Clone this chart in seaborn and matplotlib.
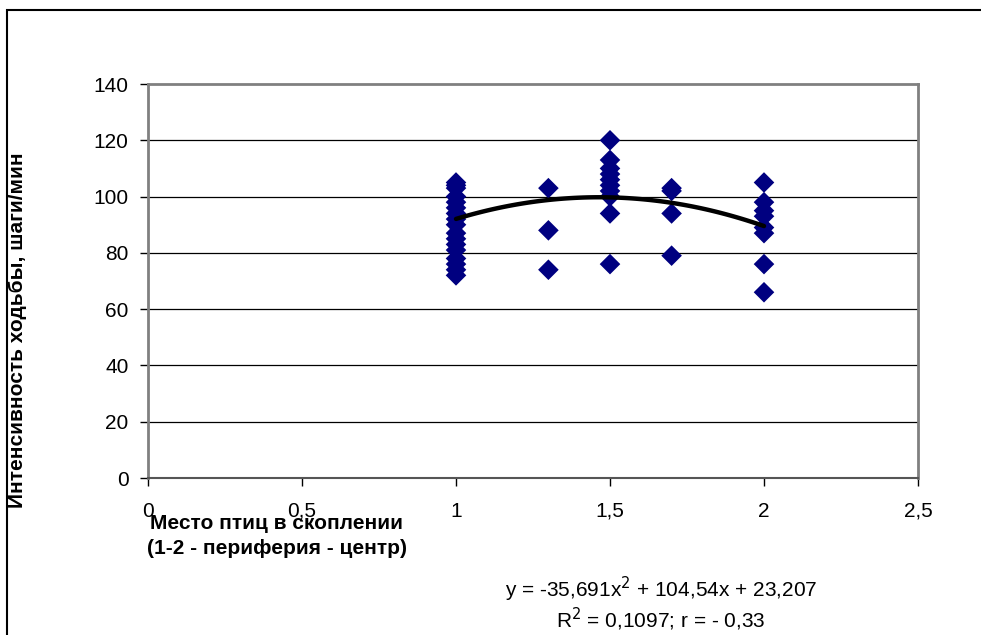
import numpy as np
import pandas as pd
import matplotlib
matplotlib.use("Agg")
import matplotlib.pyplot as plt
import seaborn as sns
from matplotlib.patches import Rectangle

# Place of bird in the flock (1 - periphery, 2 - centre)
place = [1] * 17 + [1.3] * 3 + [1.5] * 10 + [1.7] * 4 + [2] * 8
# Walking intensity, steps/min
steps = [105, 104, 103, 100, 98, 96, 94, 92, 90, 87, 85, 83, 81, 78, 76, 74, 72,
         103, 88, 74,
         120, 113, 110, 108, 106, 104, 102, 100, 94, 76,
         103, 102, 94, 79,
         105, 98, 95, 93, 89, 87, 76, 66]

# Excel polynomial trendline (order 2)
coef = [-35.691, 104.54, 23.207]
x_ticks = [0, 0.5, 1, 1.5, 2, 2.5]
x_tick_labels = ["0", "0,5", "1", "1,5", "2", "2,5"]
y_ticks = [0, 20, 40, 60, 80, 100, 120, 140]

df = pd.DataFrame({"place": place, "steps": steps})
x_fit = np.linspace(min(place), max(place), 100)
trend = pd.DataFrame({"x": x_fit, "y": np.polyval(coef, x_fit)})

sns.set_style("white")
plt.rcParams["font.family"] = ["Liberation Sans", "DejaVu Sans"]
plt.rcParams["text.color"] = "black"
plt.rcParams["xtick.color"] = "black"
plt.rcParams["ytick.color"] = "black"

fig = plt.figure(figsize=(9.81, 6.35), dpi=100)
ax = fig.add_axes([148 / 981, 1 - 478 / 635, 770 / 981, 394 / 635])

for y in y_ticks[1:-1]:
    ax.axhline(y, color="black", lw=0.9, zorder=0)

sns.scatterplot(data=df, x="place", y="steps", marker="D", s=110,
                color="#000080", edgecolor="none", ax=ax, zorder=3)
sns.lineplot(data=trend, x="x", y="y", color="black", lw=3.2, ax=ax, zorder=4)

ax.set_xlim(0, 2.5)
ax.set_ylim(0, 140)
ax.set_xticks(x_ticks)
ax.set_xticklabels(x_tick_labels, fontsize=15)
ax.set_yticks(y_ticks)
ax.set_yticklabels([str(v) for v in y_ticks], fontsize=15)
ax.tick_params(axis="both", direction="out", length=6, width=1, color="black",
               labelcolor="black", bottom=True, left=True, pad=11)
ax.tick_params(axis="y", pad=8)
ax.set_xlabel("")
ax.set_ylabel("")

for side in ["top", "right", "left"]:
    ax.spines[side].set_color("#808080")
    ax.spines[side].set_linewidth(2)
ax.spines["bottom"].set_color("#555555")
ax.spines["bottom"].set_linewidth(1.5)

fig.text(277 / 981, 1 - 536 / 635, "Место птиц в скоплении\n(1-2 - периферия - центр)",
         ha="center", va="center", fontsize=15, fontweight="bold",
         multialignment="center", linespacing=1.4)
fig.text(18 / 981, 1 - 330 / 635, "Интенсивность ходьбы, шаги/мин",
         rotation=90, ha="center", va="center", fontsize=15, fontweight="bold")
fig.text(661 / 981, 1 - 604 / 635,
         "y = -35,691x$^2$ + 104,54x + 23,207\nR$^2$ = 0,1097; r = - 0,33",
         ha="center", va="center", fontsize=15, multialignment="center",
         linespacing=1.1)

fig.patches.append(Rectangle((7 / 981, -0.1), 1.2, 1.1 - 10 / 635,
                             transform=fig.transFigure, fill=False,
                             edgecolor="black", lw=1.5))

plt.savefig("out.png", dpi=100)
